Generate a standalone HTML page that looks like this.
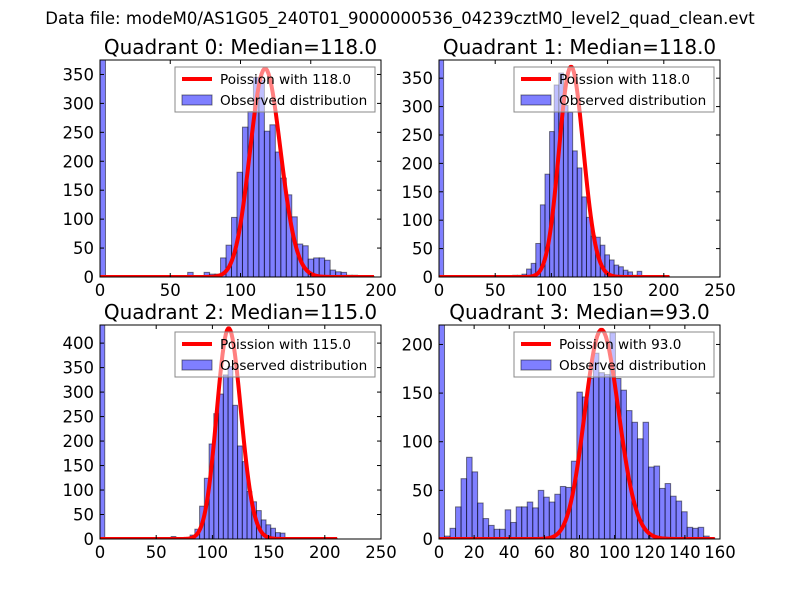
<!DOCTYPE html>
<html><head><meta charset="utf-8">
<style>
html,body{margin:0;padding:0;background:#fff;}
svg{display:block;font-family:"DejaVu Sans","Liberation Sans",sans-serif;}
</style></head>
<body>
<svg id="fig" width="800" height="600" viewBox="0 0 800 600" xmlns="http://www.w3.org/2000/svg">
<rect width="800" height="600" fill="#fff"/>
<text x="400" y="24" font-size="16.5" text-anchor="middle">Data file: modeM0/AS1G05_240T01_9000000536_04239cztM0_level2_quad_clean.evt</text>
</svg>
<script>
// ---- data ----
const medians = [118.0, 118.0, 115.0, 93.0];
const binWidths = [3.9, 4.1, 4.22, 3.14];
const q0Counts = [1200,0,0,0,0,0,0,0,0,0,0,0,0,0,0,0,8,0,0,8,5,5,33,55,103,181,259,286,345,340,252,263,216,171,142,104,57,54,31,33,33,29,12,9,8,3,3,2,2,1];
const q1Counts = [1200,0,0,0,0,0,0,0,0,0,0,0,0,0,0,0,3,3,5,14,24,59,127,181,256,338,359,302,290,222,192,141,105,72,70,56,39,30,21,18,12,9,3,10,2,1,1,0,0,1];
const q2Counts = [1200,0,0,0,0,0,0,0,0,0,0,0,0,0,0,5,3,3,3,8,20,67,124,194,256,296,335,352,273,190,158,97,76,58,39,29,22,13,12,3,2,1,1,1,1,1,1,1,1,1];
const q3Counts = [900,3,11,33,62,84,69,37,21,14,10,10,30,17,33,33,38,32,50,43,38,46,54,53,80,151,146,165,191,171,169,212,165,153,132,120,103,120,74,75,52,57,44,39,28,12,11,12,3,1];
const curvePeaks = [360, 370, 430, 215];
const xTicks = [[0,50,100,150,200],[0,50,100,150,200,250],[0,50,100,150,200,250],[0,20,40,60,80,100,120,140,160]];
const yTicks = [[0,50,100,150,200,250,300,350],[0,50,100,150,200,250,300,350],[0,50,100,150,200,250,300,350,400],[0,50,100,150,200]];
const xMax = [200, 250, 250, 160];
const yMax = [375, 382, 437, 220];
const countsAll = [q0Counts, q1Counts, q2Counts, q3Counts];

const NS = "http://www.w3.org/2000/svg";
const svg = document.getElementById('fig');
function mk(tag, attrs, parent) {
  const e = document.createElementNS(NS, tag);
  for (const k in attrs) e.setAttribute(k, attrs[k]);
  (parent || svg).appendChild(e);
  return e;
}
const boxes = [[100,60,381,277],[439,60,720,277],[100,325,381,539],[439,325,720,539]];

function lnGamma(n){ let s=0; for(let i=2;i<=n;i++) s+=Math.log(i); return s; }

for (let q = 0; q < 4; q++) {
  const [L,T,R,B] = boxes[q];
  const g = mk('g', {});
  
  
  const sx = v => L + (v / xMax[q]) * (R - L);
  const sy = v => B - (v / yMax[q]) * (B - T);
  const clipId = 'clip' + q;
  const cp = mk('clipPath', {id: clipId}, g);
  mk('rect', {x: L, y: T, width: R - L, height: B - T}, cp);
  const plot = mk('g', {'clip-path': 'url(#' + clipId + ')'}, g);

  // histogram bars
  const counts = countsAll[q];
  counts.forEach((c, k) => {
    if (c <= 0) return;
    const x0 = sx(k * binWidths[q]), x1 = sx((k + 1) * binWidths[q]);
    const y = sy(c);
    const r = mk('rect', {x: x0, y: y, width: x1 - x0, height: B - y, fill: 'rgba(0,0,255,0.5)', stroke: 'rgba(0,0,0,0.5)', 'stroke-width': 1}, plot);
    
    
  });

  // Poisson curve
  const mu = medians[q];
  const pmfPeak = Math.exp(Math.floor(mu)*Math.log(mu) - mu - lnGamma(Math.floor(mu)));
  const xEnd = binWidths[q] * countsAll[q].length;
  let d = '';
  for (let x = 0; x <= Math.ceil(xEnd); x++) {
    const p = Math.exp(x*Math.log(mu||1) - mu - lnGamma(x));
    const y = curvePeaks[q] * p / pmfPeak;
    d += (x === 0 ? 'M' : 'L') + sx(x).toFixed(2) + ',' + sy(y).toFixed(2);
  }
  const curve = mk('path', {d: d, fill: 'none', stroke: '#ff0000', 'stroke-width': 4, 'stroke-linejoin': 'round'}, plot);
  
  

  // frame
  mk('rect', {x: L, y: T, width: R - L, height: B - T, fill: 'none', stroke: '#000', 'stroke-width': 1}, g);

  // x ticks
  xTicks[q].forEach(v => {
    const x = sx(v);
    mk('line', {x1: x, x2: x, y1: B, y2: B - 4, stroke: '#000'}, g);
    mk('line', {x1: x, x2: x, y1: T, y2: T + 4, stroke: '#000'}, g);
    const t = mk('text', {x: x, y: B + 19, 'font-size': 16.5, 'text-anchor': 'middle'}, g);
    t.textContent = v;
    
    
  });
  // y ticks
  yTicks[q].forEach(v => {
    const y = sy(v);
    mk('line', {x1: L, x2: L + 4, y1: y, y2: y, stroke: '#000'}, g);
    mk('line', {x1: R, x2: R - 4, y1: y, y2: y, stroke: '#000'}, g);
    const t = mk('text', {x: L - 6, y: y + 6, 'font-size': 16.5, 'text-anchor': 'end'}, g);
    t.textContent = v;
    
    
  });

  // title
  const title = mk('text', {x: (L + R) / 2, y: T - 6, 'font-size': 20, 'text-anchor': 'middle'}, g);
  title.textContent = 'Quadrant ' + q + ': Median=' + medians[q].toFixed(1);
  
  

  // legend
  const lg = mk('g', {}, g);
  
  
  const lx = R - 206, ly = T + 7;
  mk('rect', {x: lx, y: ly, width: 200, height: 45, fill: 'rgba(255,255,255,0.5)', stroke: '#888', 'stroke-width': 1}, lg);
  mk('line', {x1: lx + 7, x2: lx + 37, y1: ly + 12, y2: ly + 12, stroke: '#ff0000', 'stroke-width': 4}, lg);
  const t1 = mk('text', {x: lx + 45, y: ly + 17, 'font-size': 13.6}, lg);
  t1.textContent = 'Poission with ' + medians[q].toFixed(1);
  
  
  mk('rect', {x: lx + 7, y: ly + 28, width: 30, height: 10, fill: 'rgba(0,0,255,0.5)', stroke: 'rgba(0,0,0,0.5)'}, lg);
  const t2 = mk('text', {x: lx + 45, y: ly + 38, 'font-size': 13.6}, lg);
  t2.textContent = 'Observed distribution';
  
  
}
</script>
</body></html>
